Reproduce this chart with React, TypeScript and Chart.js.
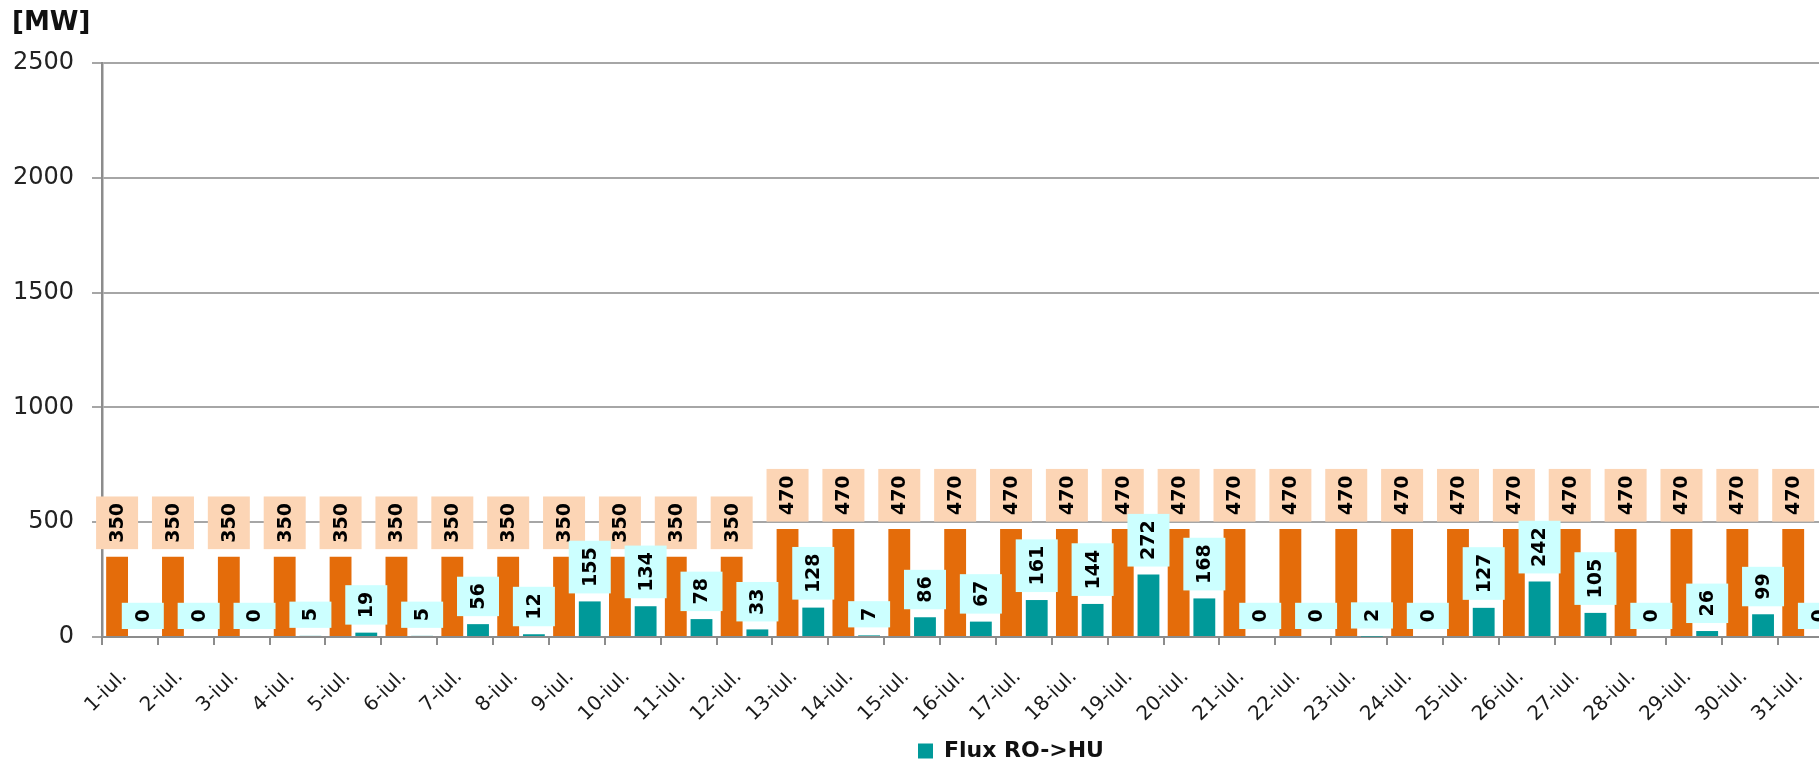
import React, { useEffect, useRef } from 'react';
import { Chart, registerables } from 'chart.js';

Chart.register(...registerables);

const categories = [
  '1-iul.', '2-iul.', '3-iul.', '4-iul.', '5-iul.', '6-iul.', '7-iul.', '8-iul.',
  '9-iul.', '10-iul.', '11-iul.', '12-iul.', '13-iul.', '14-iul.', '15-iul.', '16-iul.',
  '17-iul.', '18-iul.', '19-iul.', '20-iul.', '21-iul.', '22-iul.', '23-iul.', '24-iul.',
  '25-iul.', '26-iul.', '27-iul.', '28-iul.', '29-iul.', '30-iul.', '31-iul.',
];

const capacityValues = [
  350, 350, 350, 350, 350, 350, 350, 350, 350, 350, 350, 350,
  470, 470, 470, 470, 470, 470, 470, 470, 470, 470, 470, 470,
  470, 470, 470, 470, 470, 470, 470,
];

const fluxValues = [
  0, 0, 0, 5, 19, 5, 56, 12, 155, 134, 78, 33, 128, 7, 86, 67,
  161, 144, 272, 168, 0, 0, 2, 0, 127, 242, 105, 0, 26, 99, 0,
];

const yTicks = [0, 500, 1000, 1500, 2000, 2500];

const capacityLabel = 'Capacitate RO->HU';
const fluxLabel = 'Flux RO->HU';

const ORANGE = '#E46C0A';
const TEAL = '#009999';
const PEACH = '#FCD5B5';
const LIGHT_CYAN = '#CCFFFF';
const FONT = '"DejaVu Sans", Verdana, sans-serif';

const boxLabelPlugin = {
  id: 'boxLabels',
  afterDatasetsDraw(chart: any) {
    const ctx = chart.ctx;
    const styles = [
      { fill: PEACH, gap: 7.5 },
      { fill: LIGHT_CYAN, gap: 8 },
    ];
    [0, 1].forEach((di) => {
      const meta = chart.getDatasetMeta(di);
      const ds = chart.data.datasets[di];
      const st = styles[di];
      meta.data.forEach((bar: any, i: number) => {
        const text = String(ds.data[i]);
        ctx.save();
        ctx.font = 'bold 19px ' + FONT;
        const tw = ctx.measureText(text).width;
        const len = tw + 13;
        const across = 42;
        const bottom = bar.y - st.gap;
        const cx = bar.x;
        ctx.fillStyle = st.fill;
        ctx.fillRect(cx - across / 2, bottom - len, across, len);
        ctx.translate(cx, bottom - len / 2);
        ctx.rotate(-Math.PI / 2);
        ctx.fillStyle = '#000';
        ctx.textAlign = 'center';
        ctx.textBaseline = 'middle';
        ctx.fillText(text, 0, 1);
        ctx.restore();
      });
    });
  },
};

export default function App() {
  const ref = useRef<HTMLCanvasElement | null>(null);

  useEffect(() => {
    if (!ref.current) return;
    Chart.defaults.font.family = FONT;
    const chart = new Chart(ref.current, {
      type: 'bar',
      data: {
        labels: categories,
        datasets: [
          {
            label: capacityLabel,
            data: capacityValues,
            backgroundColor: ORANGE,
            barPercentage: 0.85,
            categoryPercentage: 0.92,
          },
          {
            label: fluxLabel,
            data: fluxValues,
            backgroundColor: TEAL,
            barPercentage: 0.85,
            categoryPercentage: 0.92,
          },
        ],
      },
      options: {
        responsive: false,
        animation: false,
        devicePixelRatio: 1,
        layout: { padding: { left: 12, top: 0, right: 0, bottom: 0 } },
        plugins: {
          title: {
            display: true,
            text: '[MW]',
            align: 'start',
            color: '#111',
            font: { size: 26, weight: 'bold', family: FONT, lineHeight: 1.2 },
            padding: { top: 7.4, bottom: 24.4 },
          },
          legend: {
            position: 'bottom',
            labels: {
              color: '#111',
              font: { size: 22, weight: 'bold', family: FONT },
              boxWidth: 15,
              boxHeight: 15,
              padding: 8,
              filter: (item: any) => item.datasetIndex === 1,
            },
          },
          tooltip: { enabled: false },
        },
        scales: {
          x: {
            grid: {
              drawOnChartArea: false,
              drawTicks: true,
              tickLength: 8,
              color: '#8c8c8c',
              lineWidth: 2,
            },
            border: { color: '#8c8c8c', width: 2 },
            ticks: {
              color: '#1a1a1a',
              font: { size: 20, family: FONT },
              minRotation: 45,
              maxRotation: 45,
              autoSkip: false,
              padding: 20,
              labelOffset: -6,
            },
            afterFit: (s: any) => {
              s.height = 95;
            },
          },
          y: {
            min: 0,
            max: 2500,
            afterBuildTicks: (s: any) => {
              s.ticks = yTicks.map((v) => ({ value: v }));
            },
            grid: {
              color: '#a6a6a6',
              lineWidth: 2,
              tickLength: 10,
              drawTicks: true,
            },
            border: { color: '#8c8c8c', width: 2.5 },
            ticks: {
              color: '#222',
              font: { size: 24, family: FONT },
              padding: 18,
              callback: (v: any) => String(v),
            },
            afterFit: (s: any) => {
              s.width = 90;
            },
          },
          yR: {
            position: 'right',
            min: 0,
            max: 2500,
            grid: { display: false },
            border: { display: false },
            ticks: { display: false },
            afterFit: (s: any) => {
              s.width = 176;
            },
          },
        },
      },
      plugins: [boxLabelPlugin],
    });
    return () => chart.destroy();
  }, []);

  return (
    <div
      style={{
        position: 'fixed',
        left: 0,
        top: 0,
        width: 1819,
        height: 762,
        overflow: 'hidden',
        background: '#fff',
      }}
    >
      <canvas
        ref={ref}
        width={2010}
        height={772}
        style={{ display: 'block', width: 2010, height: 772 }}
      />
    </div>
  );
}
